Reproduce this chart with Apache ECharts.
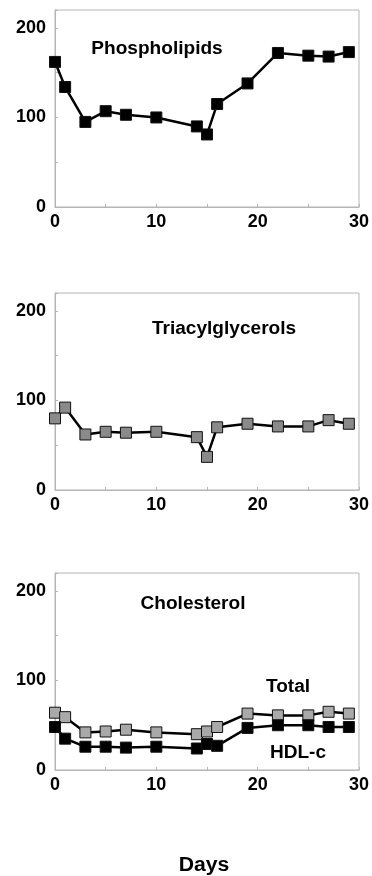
<!DOCTYPE html>
<html lang="en">
<head>
    <meta charset="UTF-8">
    <title>Lipids over days</title>
    <script src="https://cdn.jsdelivr.net/npm/echarts@6/dist/echarts.min.js"></script>
    <style>
        html, body { margin: 0; padding: 0; background: #fff; }
    </style>
</head>
<body>
    <div id="main" style="width: 372px;height: 876px"></div>
    <script>
        // days sampled (same for every panel)
        var days = [0, 1, 3, 5, 7, 10, 14, 15, 16, 19, 22, 25, 27, 29];
        var phospholipids = [162, 134, 95, 107, 103, 100, 90, 81, 115, 138, 172, 169, 168, 173];
        var triacylglycerols = [80, 92, 62, 65, 64, 65, 59, 37, 70, 74, 71, 71, 78, 74];
        var cholTotal = [64, 59, 42, 43, 45, 42, 40, 43, 48, 63, 61, 61, 65, 63];
        var cholHDL = [48, 35, 26, 26, 25, 26, 24, 29, 27, 47, 50, 50, 48, 48];
        var panelTitles = ['Phospholipids', 'Triacylglycerols', 'Cholesterol'];

        function pairs(ys) {
            return days.map(function (d, i) { return [d, ys[i]]; });
        }

        var font = 'Liberation Sans, Arial, sans-serif';
        var tops = [10, 293, 573];

        var grids = [], xAxes = [], yAxes = [];
        tops.forEach(function (t, i) {
            grids.push({left: 55, right: 10, top: t, height: 197, show: true, borderColor: '#b5b5b5', borderWidth: 1});
            xAxes.push({
                type: 'value', gridIndex: i, min: 0, max: 30, interval: 5,
                axisLine: {lineStyle: {color: '#b5b5b5'}},
                axisTick: {inside: true, length: 3, lineStyle: {color: '#b5b5b5'}},
                splitLine: {show: false},
                axisLabel: {
                    color: '#000', fontWeight: 'bold', fontSize: 18, fontFamily: font, margin: 6,
                    formatter: function (v) { return v % 10 === 0 ? v : ''; }
                }
            });
            yAxes.push({
                type: 'value', gridIndex: i, min: 0, max: 220, interval: 50,
                axisLine: {show: true, lineStyle: {color: '#b5b5b5'}},
                axisTick: {show: true, inside: true, length: 3, lineStyle: {color: '#b5b5b5'}},
                splitLine: {show: false},
                axisLabel: {
                    color: '#000', fontWeight: 'bold', fontSize: 18, fontFamily: font, margin: 9,
                    formatter: function (v) { return v % 100 === 0 ? v : ''; }
                }
            });
        });

        function line(name, idx, ys, fill) {
            return {
                name: name, type: 'line', xAxisIndex: idx, yAxisIndex: idx,
                data: pairs(ys), symbol: 'rect', symbolSize: 11,
                lineStyle: {color: '#000', width: 2.5},
                itemStyle: {color: fill, borderColor: '#111', borderWidth: 1},
                z: 3
            };
        }

        var textStyle = {fill: '#000', fontWeight: 'bold', fontSize: 18, fontFamily: font, align: 'center', verticalAlign: 'middle'};
        function label(txt, x, y, extra) {
            return {type: 'text', x: x, y: y, scaleX: 1.06, style: Object.assign({text: txt}, textStyle, extra || {})};
        }

        var mCharts = echarts.init(document.getElementById('main'));
        var option = {
            animation: false,
            backgroundColor: '#fff',
            grid: grids,
            xAxis: xAxes,
            yAxis: yAxes,
            series: [
                line('Phospholipids', 0, phospholipids, '#000'),
                line('Triacylglycerols', 1, triacylglycerols, '#8a8a8a'),
                line('Total', 2, cholTotal, '#a9a9a9'),
                line('HDL-c', 2, cholHDL, '#000')
            ],
            graphic: [
                label(panelTitles[0], 157, 49),
                label(panelTitles[1], 224, 329),
                label(panelTitles[2], 193, 604),
                label('Total', 288, 687),
                label('HDL-c', 298, 753),
                label('Days', 204, 865, {fontSize: 20})
            ]
        };
        mCharts.setOption(option);
    </script>
</body>
</html>
